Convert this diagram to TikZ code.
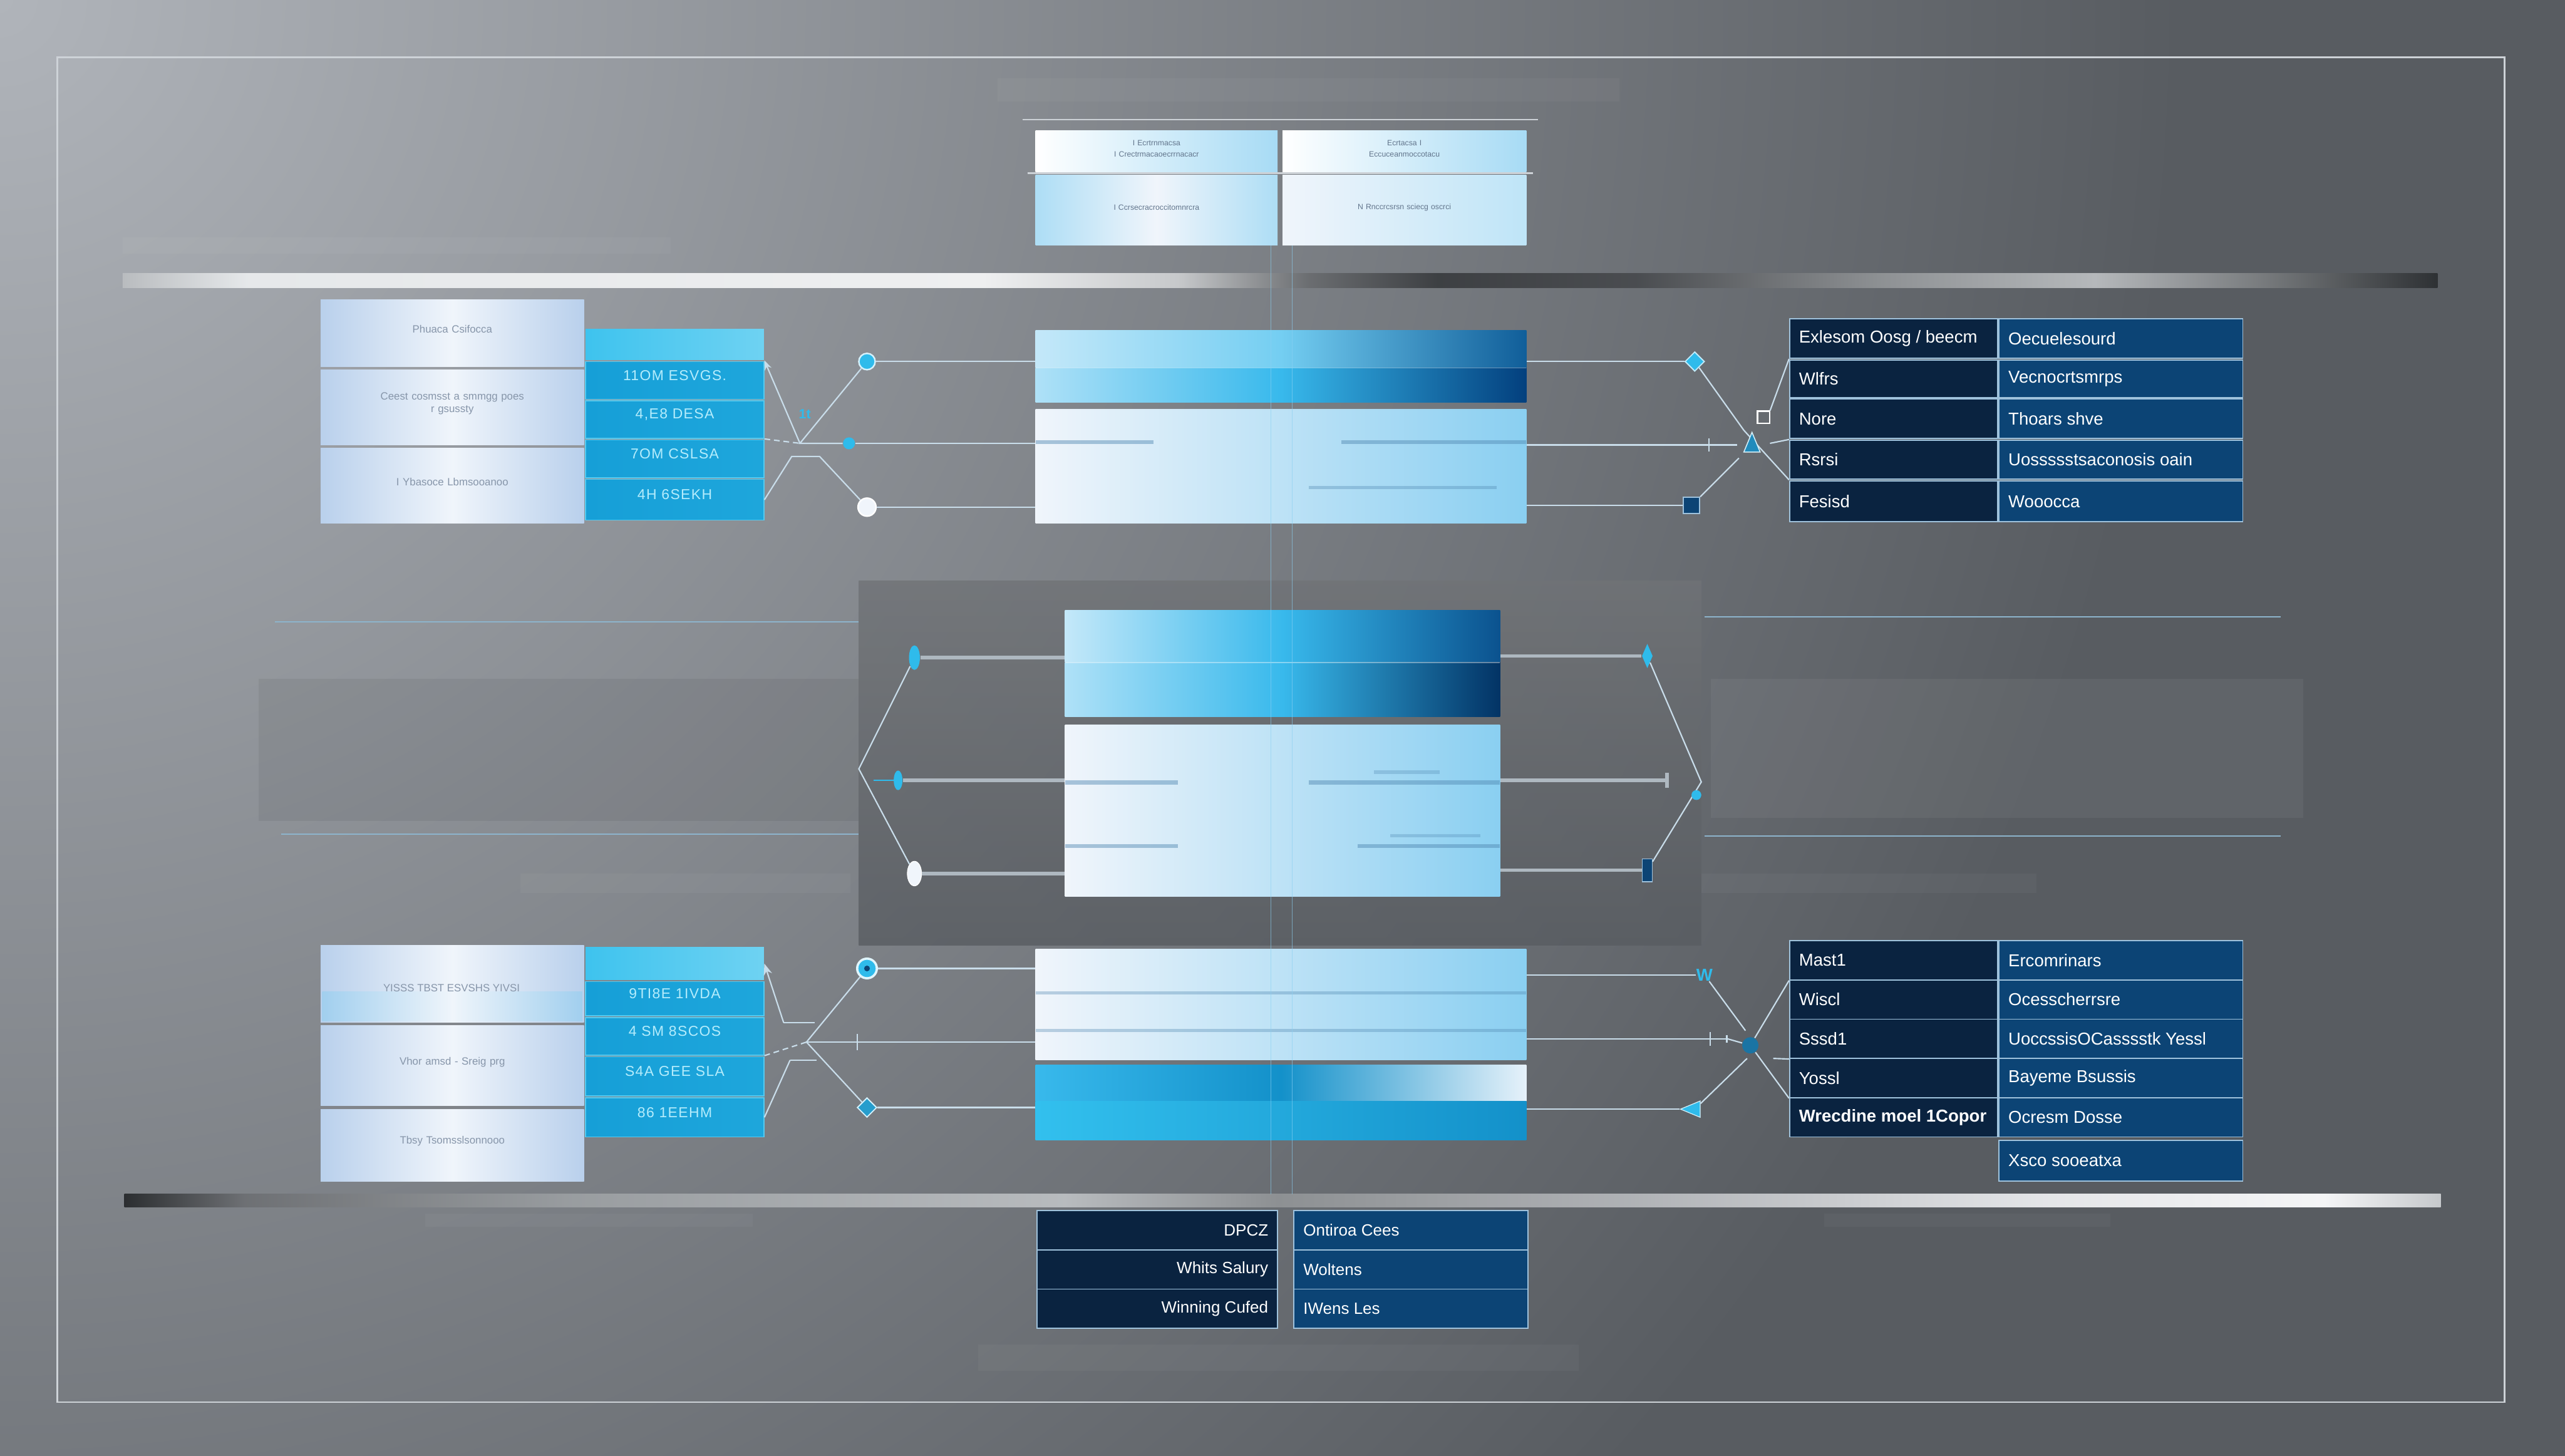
\documentclass[tikz,border=0pt]{standalone}
\usepackage{fontspec}
\setmainfont{Liberation Sans}
\newfontfamily\spacedfont[LetterSpace=6]{Liberation Sans}
\usetikzlibrary{positioning,fit,shapes.geometric,arrows.meta}

\definecolor{bgLight}{HTML}{B0B4BA}
\definecolor{bgDark}{HTML}{585C61}
\definecolor{frameC}{HTML}{CDD2D7}
\definecolor{navy}{HTML}{0A2340}
\definecolor{deep}{HTML}{0C4475}
\definecolor{edge}{HTML}{9FC2DC}
\definecolor{cyHead}{HTML}{3EC3EE}
\definecolor{cyRow}{HTML}{169FD7}
\definecolor{cyLine}{HTML}{55CAF0}
\definecolor{cyText}{HTML}{B4ECFC}
\definecolor{cyDot}{HTML}{2FBBEB}
\definecolor{paleEdge}{HTML}{B9D0EC}
\definecolor{paleMid}{HTML}{F0F5FB}
\definecolor{paleText}{HTML}{8796AA}
\definecolor{skyPale}{HTML}{C4E8F9}
\definecolor{skyMid}{HTML}{38B9EC}
\definecolor{ink}{HTML}{03407E}
\definecolor{skyLight}{HTML}{8ACFF1}
\definecolor{wireC}{HTML}{C9DDEA}
\definecolor{tubeC}{HTML}{AEB8C0}
\definecolor{ruleC}{HTML}{8DB4CC}
\definecolor{streakC}{HTML}{4F86B0}
\definecolor{hdText}{HTML}{62758C}

% metal bars
\pgfdeclarehorizontalshading{topbar}{100bp}{rgb(0bp)=(.725,.737,.749); rgb(25bp)=(.725,.737,.749);
  rgb(27.7bp)=(.90,.91,.918); rgb(43.6bp)=(.933,.937,.941); rgb(47.8bp)=(.78,.788,.796);
  rgb(50.6bp)=(.42,.43,.443); rgb(53.4bp)=(.24,.25,.263); rgb(57.7bp)=(.29,.30,.314);
  rgb(63bp)=(.557,.569,.58); rgb(67.6bp)=(.71,.722,.733); rgb(71.1bp)=(.478,.49,.5);
  rgb(75bp)=(.18,.192,.204); rgb(100bp)=(.18,.192,.204)}
\pgfdeclarehorizontalshading{lowbar}{100bp}{rgb(0bp)=(.17,.18,.19); rgb(25bp)=(.17,.18,.19);
  rgb(27.6bp)=(.43,.44,.455); rgb(34.7bp)=(.60,.615,.628); rgb(45.3bp)=(.72,.733,.745);
  rgb(49.9bp)=(.553,.565,.576); rgb(57.6bp)=(.69,.70,.714); rgb(66.5bp)=(.894,.90,.91);
  rgb(72.5bp)=(.957,.96,.965); rgb(75bp)=(.776,.788,.8); rgb(100bp)=(.776,.788,.8)}

\begin{document}
\begin{tikzpicture}[x=0.03cm, y=-0.03cm,
    every node/.style={font=\fontsize{9}{10}\selectfont},
    palecell/.style={inner sep=0pt, left color=paleEdge, right color=paleEdge, middle color=paleMid,
      text=paleText, font=\fontsize{5.5}{6.5}\selectfont, align=center},
    cyancell/.style={inner sep=0pt, draw=cyLine, line width=0.5pt, left color=cyRow, right color=cyRow!80!cyHead,
      text=cyText, font=\spacedfont\fontsize{7.5}{8}\selectfont},
    hdcell/.style={inner sep=0pt, text=hdText, font=\fontsize{4}{6}\selectfont, align=center},
    navycell/.style={inner sep=0pt, draw=edge, line width=0.6pt, fill=navy},
    deepcell/.style={inner sep=0pt, draw=edge, line width=0.6pt, fill=deep},
    tabtext/.style={inner sep=0pt, text=white},
    wire/.style={draw=wireC, line width=0.7pt},
    tube/.style={draw=tubeC, line width=1.8pt},
    rule/.style={draw=ruleC, line width=0.6pt},
    streak/.style={fill=streakC, opacity=0.45},
    haze/.style={fill=white, opacity=0.035},
    dot/.style={circle, inner sep=0pt, fill=cyDot}]

  % canvas
  \useasboundingbox (0,0) rectangle (1568,890);
  \fill[bgDark] (0,0) rectangle (1568,890);
  \begin{scope}
    \clip (0,0) rectangle (1568,890);
    \shade[inner color=bgLight, outer color=bgDark] (0,0) circle[radius=40cm];
  \end{scope}
  \fill[haze] (610,48) rectangle (990,62);
  \fill[haze] (75,145) rectangle (410,155);
  \fill[haze] (318,534) rectangle (520,546);
  \fill[haze] (1040,534) rectangle (1245,546);
  \fill[haze] (260,742) rectangle (460,750);
  \fill[haze] (1115,742) rectangle (1290,750);
  \fill[haze] (598,822) rectangle (965,838);
  \draw[frameC, line width=0.8pt] (35,35) rectangle (1531,857);

  % header
  \draw[frameC, line width=0.6pt] (625,73) -- (940,73);
  \node[fit={(633,80)(781,105)}, hdcell, left color=white, right color=skyLight!75!white] (hd1) {I Ecrtrnmacsa\\I Crectrmacaoecrrnacacr};
  \node[fit={(784,80)(933,105)}, hdcell, left color=white, right color=skyLight!75!white] (hd2) {Ecrtacsa I\\Eccuceanmoccotacu};
  \node[fit={(633,107)(781,150)}, hdcell, left color=skyLight!70!white, right color=skyLight!70!white, middle color=paleMid] (hd3) {I Ccrsecracroccitomnrcra};
  \node[fit={(784,107)(933,150)}, hdcell, left color=paleMid, right color=skyLight!55!white] (hd4) {N Rnccrcsrsn sciecg oscrci};
  \draw[frameC, line width=1pt] (628,106) -- (937,106);

  % metal bars
  \shade[shading=topbar] (75,167) rectangle (1490,176);
  \shade[shading=lowbar] (76,730) rectangle (1492,738);

  % middle panel and side rules
  \shade[top color=gray!20!bgDark!90!white, bottom color=bgDark, opacity=0.8] (525,355) rectangle (1040,578);
  \draw[rule] (168,380) -- (525,380);
  \fill[black, opacity=0.06] (158,415) rectangle (525,502);
  \draw[rule] (172,510) -- (525,510);
  \draw[rule] (1042,377) -- (1394,377);
  \fill[white, opacity=0.05] (1046,415) rectangle (1408,500);
  \draw[rule] (1042,511) -- (1394,511);

  % left boxes, top
  \node[fit={(196,183)(357,224)}, palecell] (ltp1) {Phuaca Csifocca};
  \node[fit={(196,226)(357,272)}, palecell] (ltp2) {Ceest cosmsst a smmgg poes\\ r gsussty};
  \node[fit={(196,274)(357,320)}, palecell] (ltp3) {I Ybasoce Lbmsooanoo};
  \node[fit={(358,201)(467,220)}, inner sep=0pt, left color=cyHead, right color=cyHead!75!white] (ltb0) {};
  \foreach \n/\a/\b/\t in {1/221/244/{11OM ESVGS.}, 2/245/268/{4,E8 DESA}, 3/269/292/{7OM CSLSA}, 4/293/318/{4H 6SEKH}}
    \node[fit={(358,\a)(467,\b)}, cyancell] (ltb\n) {\t};

  % left boxes, bottom
  \node[fit={(196,578)(357,625)}, palecell] (lbp1) {};
  \shade[left color=skyLight, right color=skyLight, middle color=paleMid, opacity=0.5] (197,606) rectangle (356,624);
  \node[paleText, font=\fontsize{5.5}{6.5}\selectfont, inner sep=0pt] (lbp1t) at (276,604) {YISSS TBST ESVSHS YIVSI};
  \node[fit={(196,627)(357,676)}, palecell] (lbp2) {Vhor amsd - Sreig prg};
  \node[fit={(196,678)(357,722)}, palecell] (lbp3) {Tbsy Tsomsslsonnooo};
  \node[fit={(358,579)(467,599)}, inner sep=0pt, left color=cyHead, right color=cyHead!75!white] (lbb0) {};
  \foreach \n/\a/\b/\t in {1/600/621/{9TI8E 1IVDA}, 2/622/645/{4 SM 8SCOS}, 3/646/670/{S4A GEE SLA}, 4/671/695/{86 1EEHM}}
    \node[fit={(358,\a)(467,\b)}, cyancell] (lbb\n) {\t};

  % central blocks
  \node[fit={(633,202)(933,225)}, inner sep=0pt, left color=skyPale, right color=ink!75!skyMid, middle color=skyMid!70!white] (ctA) {};
  \node[fit={(633,225)(933,246)}, inner sep=0pt, left color=skyPale!85!skyMid, right color=ink, middle color=skyMid] (ctB) {};
  \draw[white, opacity=0.4] (633,225) -- (933,225);
  \node[fit={(633,250)(933,320)}, inner sep=0pt, left color=paleMid, right color=skyLight] (ctC) {};
  \fill[streak] (633,269) rectangle (705,271.5);
  \fill[streak] (820,269) rectangle (933,271.5);
  \fill[streak, opacity=0.35] (800,297) rectangle (915,299);

  \node[fit={(651,373)(917,405)}, inner sep=0pt, left color=skyPale, right color=ink!85!skyMid, middle color=skyMid] (cmA) {};
  \node[fit={(651,405)(917,438)}, inner sep=0pt, left color=skyPale!85!skyMid, right color=ink!80!black, middle color=skyMid] (cmB) {};
  \draw[white, opacity=0.4] (651,405) -- (917,405);
  \node[fit={(651,443)(917,548)}, inner sep=0pt, left color=paleMid, right color=skyLight] (cmC) {};
  \fill[streak] (651,477) rectangle (720,479.5);
  \fill[streak] (800,477) rectangle (917,479.5);
  \fill[streak, opacity=0.3] (840,471) rectangle (880,473);
  \fill[streak] (651,516) rectangle (720,518.5);
  \fill[streak] (830,516) rectangle (917,518.5);
  \fill[streak, opacity=0.3] (850,510) rectangle (905,512);

  \node[fit={(633,580)(933,648)}, inner sep=0pt, left color=paleMid, right color=skyLight] (cbA) {};
  \fill[streak, opacity=0.35] (633,606) rectangle (933,608);
  \fill[streak, opacity=0.35] (633,629) rectangle (933,631);
  \node[fit={(633,651)(933,673)}, inner sep=0pt, left color=skyMid, right color=paleMid!90!skyLight, middle color=cyRow!85!ink] (cbB) {};
  \node[fit={(633,673)(933,697)}, inner sep=0pt, left color=skyMid!90!cyan, right color=cyRow!85!ink] (cbC) {};

  % axis lines
  \draw[skyLight, line width=0.4pt, opacity=0.6] (777,150) -- (777,730);
  \draw[skyLight, line width=0.4pt, opacity=0.6] (790,150) -- (790,730);

  % right table, top
  \foreach \r/\a/\b/\s/\t in {1/195/219/{Exlesom Oosg / beecm}/Oecuelesourd, 2/220/243/Wlfrs/Vecnocrtsmrps,
      3/244/268/Nore/{Thoars shve}, 4/269/293/Rsrsi/{Uossssstsaconosis oain}, 5/294/319/Fesisd/Wooocca}{
    \node[fit={(1094,\a)(1221,\b)}, navycell] (rtl\r) {};
    \node[tabtext, anchor=west] (rtt\r) at ([xshift=5pt]rtl\r.west) {\s};
    \node[fit={(1222,\a)(1371,\b)}, deepcell] (rtr\r) {};
    \node[tabtext, anchor=west] (rtu\r) at ([xshift=5pt]rtr\r.west) {\t};
  }

  % right table, bottom
  \foreach \r/\a/\b/\s/\t in {1/575/599/Mast1/Ercomrinars, 2/599/623/Wiscl/Ocesscherrsre,
      3/623/647/Sssd1/{UoccssisOCasssstk Yessl}, 4/647/671/Yossl/{Bayeme Bsussis},
      5/671/695/{\bfseries Wrecdine moel 1Copor}/{Ocresm Dosse}}{
    \node[fit={(1094,\a)(1221,\b)}, navycell] (rbl\r) {};
    \node[tabtext, anchor=west] (rbt\r) at ([xshift=5pt]rbl\r.west) {\s};
    \node[fit={(1222,\a)(1371,\b)}, deepcell] (rbr\r) {};
    \node[tabtext, anchor=west] (rbu\r) at ([xshift=5pt]rbr\r.west) {\t};
  }
  \node[fit={(1222,697)(1371,722)}, deepcell] (rbr6) {};
  \node[tabtext, anchor=west] (rbu6) at ([xshift=5pt]rbr6.west) {Xsco sooeatxa};

  % bottom table
  \foreach \r/\a/\b/\s/\t in {1/740/764/DPCZ/{Ontiroa Cees}, 2/764/788/{Whits Salury}/Woltens, 3/788/812/{Winning Cufed}/{IWens Les}}{
    \node[fit={(634,\a)(781,\b)}, navycell] (btl\r) {};
    \node[tabtext, anchor=east, font=\fontsize{8.5}{10}\selectfont] (btt\r) at ([xshift=-5pt]btl\r.east) {\s};
    \node[fit={(791,\a)(934,\b)}, deepcell] (btr\r) {};
    \node[tabtext, anchor=west, font=\fontsize{8.5}{10}\selectfont] (btu\r) at ([xshift=5pt]btr\r.west) {\t};
  }

  % connectors, top left
  \node[dot, draw=white!80!cyDot, line width=0.8pt, minimum size=0.3cm] (ta1) at (530,221) {};
  \node[dot, minimum size=0.22cm] (ta2) at (519,271) {};
  \node[dot, fill=paleMid, draw=white, line width=0.8pt, minimum size=0.33cm] (ta3) at (530,310) {};
  \coordinate (tx) at (489,271);
  \coordinate (tb1) at (484,279);
  \coordinate (tb2) at (501,279);
  \draw[wire, {Stealth[length=5pt]}-] (ltb0.south east) -- (tx);
  \draw[wire] (ta1) -- (tx) -- (ta2);
  \draw[wire, densely dashed] (ltb2.south east) -- (tx);
  \draw[wire] (ltb4.east) -- (tb1) -- (tb2) -- (ta3);
  \draw[wire] (ta1) -- (ta1 -| ctA.west);
  \draw[wire] (ta2) -- (ta2 -| ctC.west);
  \draw[wire] (ta3) -- (ta3 -| ctC.west);
  \node[text=cyDot, font=\bfseries\fontsize{7}{7}\selectfont, inner sep=0pt] (tglyph) at (492,253) {1t};

  % connectors, top right
  \node[diamond, fill=cyDot, draw=white!70!cyDot, line width=0.6pt, inner sep=0pt, minimum size=0.36cm] (tc1) at (1036,221) {};
  \node[fill=deep, draw=edge, line width=0.6pt, inner sep=0pt, minimum size=0.3cm] (tc3) at (1034,309) {};
  \node[draw=white, line width=0.7pt, inner sep=0pt, minimum size=0.22cm] (tsq) at (1078,255) {};
  \coordinate (ty) at (1066,263);
  \coordinate (tz) at (1063,280);
  \draw[wire] (tc1 -| ctA.east) -- (tc1);
  \draw[wire] (tc3 -| ctC.east) -- (tc3);
  \draw[wire, -{Bar[width=7pt]}] (ctC.east |- 0,272) -- (1045,272);
  \draw[wire] (1045,272) -- (1062,272);
  \draw[wire] (tc1) -- (ty) -- (rtl4.south west);
  \draw[wire] (tc3) -- (tz);
  \draw[wire] (tsq.north east) -- (rtl1.south west);
  \draw[wire] (1082,271) -- (rtl4.north west);
  \node[isosceles triangle, shape border rotate=90, fill=cyDot!60!deep, draw=white!80!cyDot, line width=0.5pt,
    inner sep=0pt, minimum size=0.3cm] (ttr) at (1071,273) {};

  % connectors, middle
  \node[ellipse, fill=cyDot, inner sep=0pt, minimum width=0.2cm, minimum height=0.45cm] (mc1) at (559,402) {};
  \node[ellipse, fill=cyDot, inner sep=0pt, minimum width=0.16cm, minimum height=0.36cm] (mc2) at (549,477) {};
  \node[ellipse, fill=paleMid, draw=white, inner sep=0pt, minimum width=0.26cm, minimum height=0.45cm] (mc3) at (559,534) {};
  \coordinate (mx) at (525,470);
  \draw[tube] (mc1) -- (mc1 -| cmA.west);
  \draw[tube] (mc2) -- (mc2 -| cmC.west);
  \draw[tube] (mc3) -- (mc3 -| cmC.west);
  \draw[wire] (mc1) -- (mx) -- (mc3);
  \draw[wire, draw=cyDot] (mc2) -- (534,477);
  \node[diamond, fill=cyDot, inner sep=0pt, minimum width=0.2cm, minimum height=0.45cm] (md1) at (1007,401) {};
  \node[fill=deep, draw=edge, inner sep=0pt, minimum width=0.18cm, minimum height=0.42cm] (md3) at (1007,532) {};
  \coordinate (my) at (1040,478);
  \draw[tube] (md1 -| cmA.east) -- (md1);
  \draw[tube] (md3 -| cmC.east) -- (md3);
  \draw[tube, -{Bar[width=8pt]}] (cmC.east |- 0,477) -- (1020,477);
  \draw[wire] (md1) -- (my) -- (md3);
  \node[dot, minimum size=0.18cm] (mdot) at (1037,486) {};

  % connectors, bottom left
  \node[dot, draw=white!85!cyDot, line width=1.2pt, minimum size=0.36cm] (ba1) at (530,592) {};
  \fill[deep] (ba1.center) circle[radius=1.5pt];
  \node[diamond, fill=cyDot!75!deep, draw=white!80!cyDot, line width=0.6pt, inner sep=0pt, minimum size=0.36cm] (ba3) at (530,677) {};
  \coordinate (bk1) at (479,625);
  \coordinate (bk2) at (498,625);
  \coordinate (bk3) at (483,648);
  \coordinate (bk4) at (499,648);
  \coordinate (bm) at (493,637);
  \draw[wire] (bk1) -- (bk2);
  \draw[wire] (bk3) -- (bk4);
  \draw[wire, -{Stealth[length=6pt]}] (bk1) -- (lbb0.east);
  \draw[wire] (bk3) -- (lbb4.east);
  \draw[wire] (ba1) -- (bm) -- (ba3);
  \draw[wire, densely dashed] (lbb2.south east) -- (bm);
  \draw[wire] (bm) -- (bm -| cbA.west);
  \draw[wire] (524,632) -- (524,642);
  \draw[wire] (ba1) -- (ba1 -| cbA.west);
  \draw[wire] (ba3) -- (ba3 -| cbC.west);

  % connectors, bottom right
  \node[text=cyDot, font=\bfseries\fontsize{9}{9}\selectfont, inner sep=0pt] (bc1) at (1042,596) {W};
  \node[isosceles triangle, shape border rotate=180, fill=cyDot, draw=white!80!cyDot, inner sep=0pt, minimum size=0.3cm] (bc3) at (1036,678) {};
  \coordinate (by1) at (1067,630);
  \coordinate (by2) at (1068,647);
  \draw[wire] (bc1 -| cbA.east) -- (bc1.west);
  \draw[wire] (bc3 -| cbC.east) -- (bc3);
  \draw[wire] (bc1) -- (by1);
  \draw[wire] (bc3) -- (by2);
  \draw[wire, -{Bar[width=7pt]}] (cbA.east |- 0,635) -- (1046,635);
  \draw[wire, -{Bar[width=4pt]}] (1046,635) -- (1056,635);
  \node[dot, fill=deep!60!cyDot, minimum size=0.3cm] (bblob) at (1070,639) {};
  \draw[wire] (1056,635) -- (bblob);
  \draw[wire] (bblob) -- (rbl1.south west);
  \draw[wire] (bblob) -- (rbl4.south west);
  \draw[wire] (1084,647) -- (rbl3.south west);
\end{tikzpicture}
\end{document}
